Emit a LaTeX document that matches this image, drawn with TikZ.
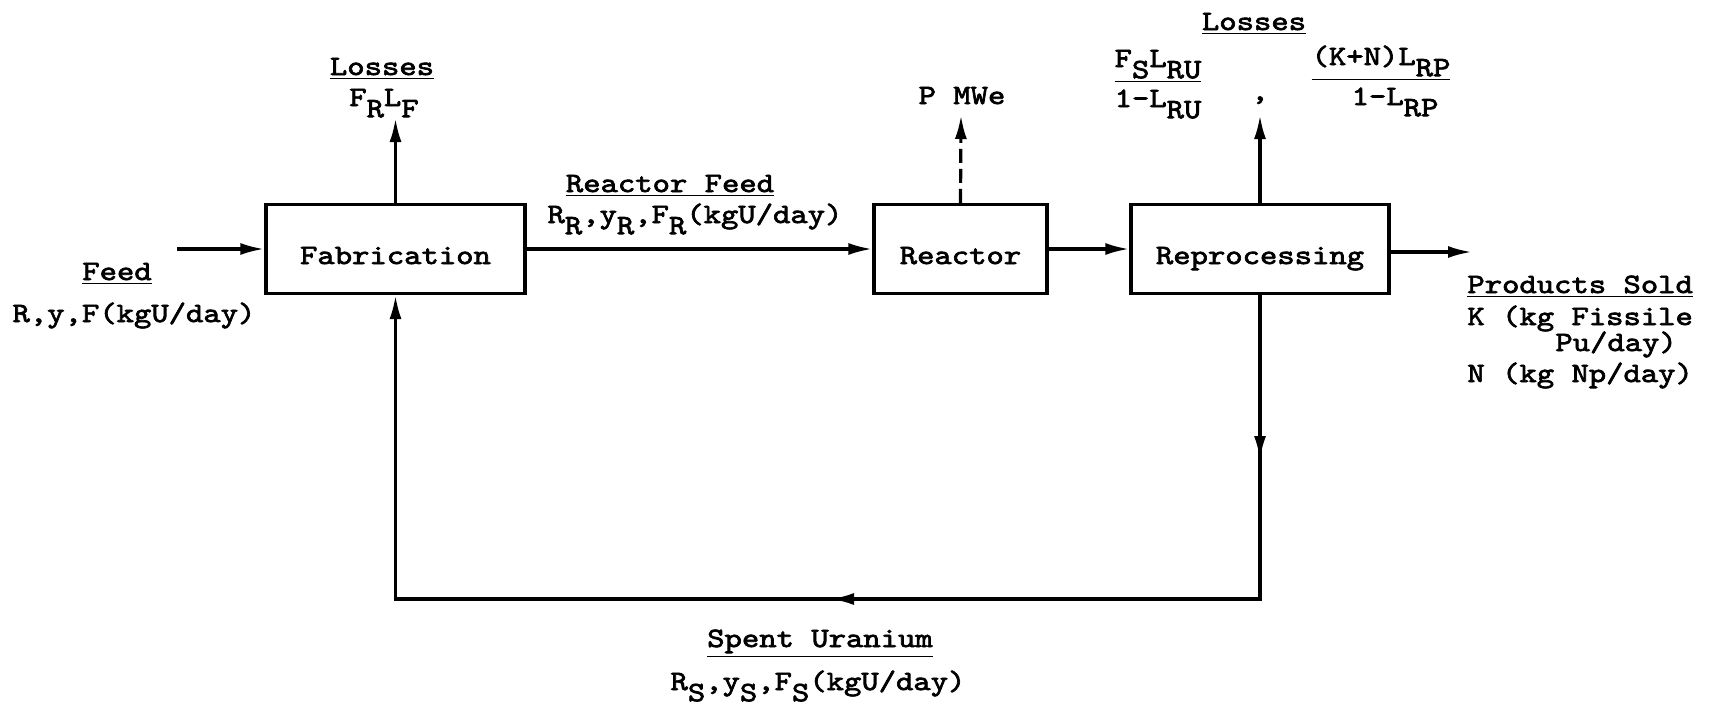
\documentclass[tikz,border=0pt]{standalone}
\usepackage{fontspec}
\setmainfont{lmmono10-regular.otf}[FakeBold=2.5, FakeStretch=1.18]
\usetikzlibrary{positioning, arrows.meta}
% lowered index, typewriter style
\newcommand{\dn}[1]{\raisebox{-0.4em}{#1}}

\begin{document}
\begin{tikzpicture}[x=0.5pt, y=-0.5pt,
    font=\fontsize{14}{16}\selectfont,
    unit/.style={draw, line width=1.6pt, minimum height=44.5pt, inner sep=0pt,
      text height=1.5em, text depth=0pt},
    flow/.style={line width=1.6pt, -{Latex[length=12pt,width=6pt]}},
    lbl/.style={inner sep=0pt, anchor=base}]
  \useasboundingbox (0,0) rectangle (1709,708);

  % process units
  \node[unit, minimum width=129.5pt] (fab)  at (395.5,249) {Fabrication};
  \node[unit, minimum width=86.5pt]  (reac) at (960.5,249) {Reactor};
  \node[unit, minimum width=129pt]   (rep)  at (1260,249)  {Reprocessing};

  % free ends and bends
  \coordinate (feedin)  at (177,249);
  \coordinate (fabloss) at (395.5,118);
  \coordinate (power)   at (961,115);
  \coordinate (reploss) at (1260,115);
  \coordinate (prodout) at (1472,252);
  \coordinate (dmid)    at (1260,460);
  \coordinate (corner)  at (1260,599);
  \coordinate (bmid)    at (830,599);

  % streams
  \draw[flow] (feedin) -- (fab.west);
  \draw[flow] (fab.east) -- (reac.west);
  \draw[flow] (reac.east) -- (rep.west);
  \draw[flow] (rep.east |- prodout) -- (prodout);
  \draw[flow] (fab.north) -- (fabloss);
  \draw[flow, dash pattern=on 7pt off 3pt] (reac.north) -- (power);
  \draw[flow] (rep.north) -- (reploss);
  % recycle loop
  \draw[flow] (rep.south) -- (dmid);
  \draw[flow] (rep.south) |- (bmid);
  \draw[flow] (corner) -| (fab.south);

  % labels
  \node[lbl] (feedhd)  at (117,280) {\underline{Feed}};
  \node[lbl] (feedval) at (134,322) {R,y,F(kgU/day)};
  \node[lbl] (flosshd)  at (382,75)  {\underline{Losses}};
  \node[lbl] (flossval) at (384,106) {F\dn{R}L\dn{F}};
  \node[lbl] (rfeedhd)  at (670,192) {\underline{Reactor Feed}};
  \node[lbl] (rfeedval) at (695,223) {R\dn{R},y\dn{R},F\dn{R}(kgU/day)};
  \node[lbl] (powlbl)   at (962,104) {P MWe};
  \node[lbl] (rlosshd)  at (1254,30) {\underline{Losses}};
  \node[lbl] (rlossnuma) at (1158,67)  {\underline{F\dn{S}L\dn{RU}}};
  \node[lbl] (rlossdena) at (1158,107) {1-L\dn{RU}};
  \node[lbl] (rlosssep)  at (1260,100) {,};
  \node[lbl] (rlossnumb) at (1381,65)  {\underline{(K+N)L\dn{RP}}};
  \node[lbl] (rlossdenb) at (1395,105) {1-L\dn{RP}};
  \node[lbl, anchor=base west] (prodhd) at (1467,293) {\underline{Products Sold}};
  \node[lbl, anchor=base west] (prodk)  at (1467,325) {K (kg Fissile};
  \node[lbl, anchor=base west] (prodpu) at (1555,351) {Pu/day)};
  \node[lbl, anchor=base west] (prodn)  at (1467,382) {N (kg Np/day)};
  \node[lbl] (spenthd)  at (820,647) {\underline{Spent Uranium}};
  \node[lbl] (spentval) at (818,690) {R\dn{S},y\dn{S},F\dn{S}(kgU/day)};
\end{tikzpicture}
\end{document}
